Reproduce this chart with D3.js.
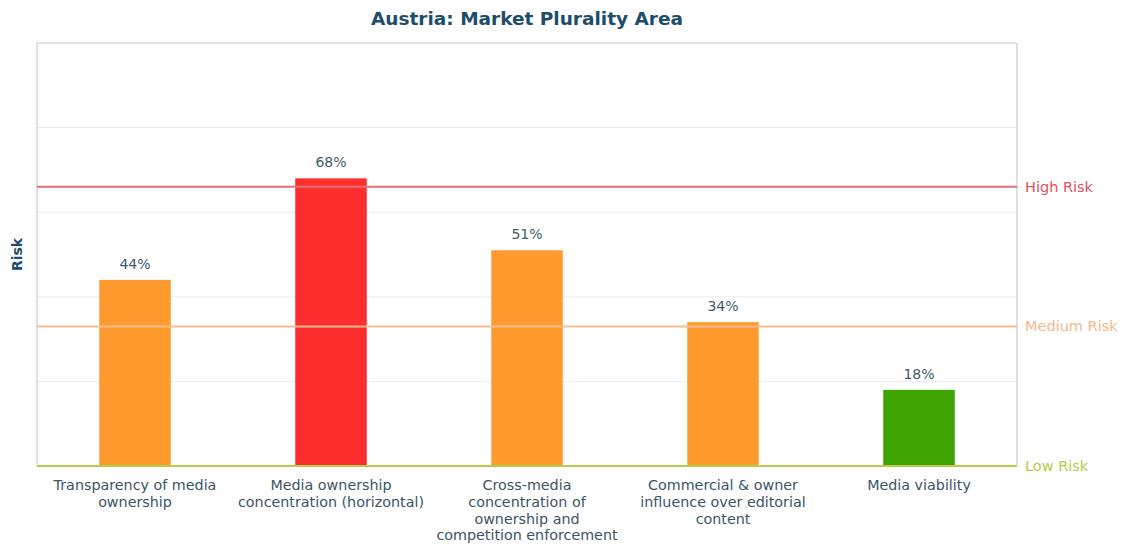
<!DOCTYPE html>
<html>
<head>
<meta charset="utf-8">
<script src="https://cdn.jsdelivr.net/npm/d3@7"></script>
<style>
  html, body { margin: 0; padding: 0; background: #ffffff; }
  svg { display: block; font-family: "DejaVu Sans", sans-serif; }
</style>
</head>
<body>
<svg id="chart" width="1121" height="544"></svg>
<script>
// Market Plurality indicators for Austria (risk score, %)
const categories = [
  "Transparency of media ownership",
  "Media ownership concentration (horizontal)",
  "Cross-media concentration of ownership and competition enforcement",
  "Commercial & owner influence over editorial content",
  "Media viability"
];
const categoryLines = [
  ["Transparency of media", "ownership"],
  ["Media ownership", "concentration (horizontal)"],
  ["Cross-media", "concentration of", "ownership and", "competition enforcement"],
  ["Commercial & owner", "influence over editorial", "content"],
  ["Media viability"]
];
const values = [44, 68, 51, 34, 18];
const riskLevels = ["Low Risk", "Medium Risk", "High Risk"];
const riskThresholds = [0, 33, 66];
const gridTicks = [20, 40, 60, 80, 100];

const colorFor = v => v > 66 ? "#ff2e2e" : v > 33 ? "#ff9a2e" : "#3fa402";
const riskColors = { "Low Risk": "#b8ca4c", "Medium Risk": "#f6b98c", "High Risk": "#e0505e" };
const riskLineColors = { "Low Risk": "#b8cc48", "Medium Risk": "#f7bd8e", "High Risk": "#e07078" };

const margin = { top: 43, right: 104, bottom: 78, left: 37 };
const width = 1121, height = 544;
const svg = d3.select("#chart");

const x = d3.scaleBand()
  .domain(categories)
  .range([margin.left, width - margin.right])
  .paddingInner(0)
  .paddingOuter(0);
const y = d3.scaleLinear()
  .domain([0, 100])
  .range([height - margin.bottom, margin.top]);

const barW = x.bandwidth() * 0.365;

// Horizontal gridlines
svg.append("g")
  .selectAll("line")
  .data(gridTicks.slice(0, -1))
  .join("line")
  .attr("x1", margin.left).attr("x2", width - margin.right)
  .attr("y1", d => y(d)).attr("y2", d => y(d))
  .attr("stroke", "#ececec").attr("stroke-width", 1);

// Plot frame: top, left, right
svg.append("line")
  .attr("x1", margin.left).attr("x2", width - margin.right)
  .attr("y1", y(100)).attr("y2", y(100))
  .attr("stroke", "#d2dde0").attr("stroke-width", 1.5);
svg.append("line")
  .attr("x1", margin.left).attr("x2", margin.left)
  .attr("y1", y(100)).attr("y2", y(0))
  .attr("stroke", "#d6d6d6").attr("stroke-width", 1.5);
svg.append("line")
  .attr("x1", width - margin.right).attr("x2", width - margin.right)
  .attr("y1", y(100)).attr("y2", y(0))
  .attr("stroke", "#d6d6d6").attr("stroke-width", 1.5);

// Bars
svg.append("g")
  .selectAll("rect")
  .data(values)
  .join("rect")
  .attr("x", (d, i) => x(categories[i]) + x.bandwidth() / 2 - barW / 2)
  .attr("width", barW)
  .attr("y", d => y(d))
  .attr("height", d => y(0) - y(d))
  .attr("fill", d => colorFor(d));

// Risk threshold lines and labels
riskLevels.forEach((name, i) => {
  const v = riskThresholds[i];
  svg.append("line")
    .attr("x1", margin.left).attr("x2", width - margin.right)
    .attr("y1", y(v)).attr("y2", y(v))
    .attr("stroke", riskLineColors[name]).attr("stroke-width", 2);
  svg.append("text")
    .attr("x", width - margin.right + 8)
    .attr("y", y(v))
    .attr("dy", "0.35em")
    .attr("font-size", 14.5)
    .attr("fill", riskColors[name])
    .text(name);
});

// Value labels
svg.append("g")
  .selectAll("text")
  .data(values)
  .join("text")
  .attr("x", (d, i) => x(categories[i]) + x.bandwidth() / 2)
  .attr("y", d => y(d) - 11)
  .attr("text-anchor", "middle")
  .attr("font-size", 14)
  .attr("fill", "#3e5b6c")
  .text(d => d + "%");

// Category labels
const xl = svg.append("g");
categories.forEach((c, i) => {
  const t = xl.append("text")
    .attr("x", x(c) + x.bandwidth() / 2)
    .attr("y", y(0) + 24)
    .attr("text-anchor", "middle")
    .attr("font-size", 14.3)
    .attr("fill", "#3a5567");
  categoryLines[i].forEach((line, j) => {
    t.append("tspan")
      .attr("x", x(c) + x.bandwidth() / 2)
      .attr("dy", j === 0 ? 0 : 16.8)
      .text(line);
  });
});

// Title
svg.append("text")
  .attr("x", (margin.left + width - margin.right) / 2)
  .attr("y", 25)
  .attr("text-anchor", "middle")
  .attr("font-size", 18.5)
  .attr("font-weight", "bold")
  .attr("fill", "#1e4d6b")
  .text("Austria: Market Plurality Area");

// Y axis title
svg.append("text")
  .attr("transform", `translate(22, ${(y(0) + y(100)) / 2}) rotate(-90)`)
  .attr("text-anchor", "middle")
  .attr("font-size", 14)
  .attr("font-weight", "bold")
  .attr("fill", "#1e4d6b")
  .text("Risk");
</script>
</body>
</html>
